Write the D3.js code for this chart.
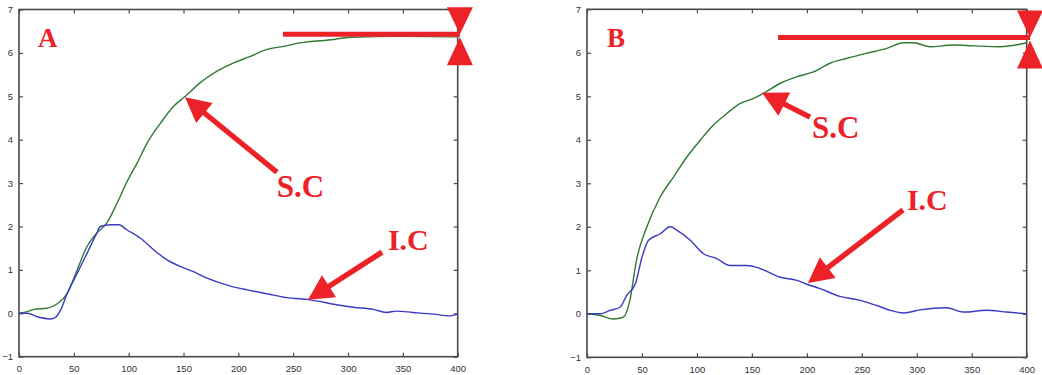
<!DOCTYPE html>
<html><head><meta charset="utf-8">
<script src="https://cdn.jsdelivr.net/npm/d3@7"></script>
<style>body{margin:0;background:#fff}svg{display:block}</style>
</head><body><svg id="c" width="1042" height="375"></svg>
<script>
// ---- data ----
const xTicks = [0,50,100,150,200,250,300,350,400];
const yTicks = [-1,0,1,2,3,4,5,6,7];
const panelNames = ["A","B"];

const scA_x = [0,7.6,13.7,25.8,35,44,53,62,71,80,89.5,98.6,107.7,116.8,129,141,151.7,165,180.6,195.8,211,226,241,256,287,302,347,400];
const scA_y = [0,0.04,0.09,0.12,0.22,0.46,1.0,1.54,1.85,2.08,2.54,3.04,3.46,3.92,4.38,4.77,5.0,5.31,5.58,5.77,5.92,6.08,6.15,6.23,6.31,6.36,6.38,6.37];
const icA_x = [0,7.6,16.7,28.8,33,38,44,53,62,71,74,83.5,91,98.6,110.8,123,135,147,159,171.5,189.7,208,226,244,265.6,287,305,323,335,344,359,378,393,400];
const icA_y = [0,0,-0.08,-0.13,-0.1,0.08,0.46,0.92,1.38,1.85,2.0,2.04,2.04,1.92,1.73,1.46,1.23,1.08,0.96,0.81,0.65,0.54,0.45,0.36,0.31,0.21,0.14,0.09,0.02,0.05,0.02,-0.02,-0.06,-0.02];

const scB_x = [0,12,24,33,39,45,54.5,66.7,78.8,91,103,115,127,139,151.5,160.6,175.8,191,206,221,236,254.5,272.7,288,297,312,333,351.5,375.8,400];
const scB_y = [0,-0.04,-0.12,-0.08,0.31,1.23,2.0,2.69,3.15,3.61,3.99,4.34,4.6,4.83,4.95,5.07,5.3,5.45,5.56,5.76,5.87,5.99,6.1,6.23,6.23,6.14,6.18,6.16,6.14,6.23];
const icB_x = [0,12,21,30,36,44,50,56,66.7,75.8,82,94,106,118,130,145.5,157.6,175.8,191,200,212,230,248.5,263.6,275.8,288,303,327,342.4,363.6,381.8,400];
const icB_y = [0,0,0.08,0.15,0.42,0.69,1.3,1.69,1.84,2.0,1.92,1.69,1.38,1.27,1.11,1.11,1.04,0.84,0.77,0.68,0.58,0.4,0.31,0.19,0.08,0.02,0.09,0.14,0.04,0.08,0.04,0];

// annotation anchors (data units)
const labelText = ["S.C","I.C"];
const annA = {panel:[17.3,6.14], sc:[235,2.68], ic:[336.4,1.46],
  scArrow:[[235.2,3.25],[151.4,4.98]], icArrow:[[331,1.41],[263.5,0.31]],
  level:[240.7,402,6.43]};
const annB = {panel:[18.2,6.13], sc:[204.7,4.04], ic:[291,2.39],
  scArrow:[[202.9,4.52],[159.2,5.08]], icArrow:[[287.5,2.39],[201,0.71]],
  level:[173.8,403,6.35]};

// ---- drawing ----
const svg = d3.select("#c");
const RED = "#ec2228", GREEN = "#2f7a34", BLUE = "#3a3ac4", AX = "#4a4a4a";

function panel(xr, yr, sc, ic, ann, name){
  const x = d3.scaleLinear().domain([0,400]).range(xr);
  const y = d3.scaleLinear().domain([-1,7]).range(yr);
  const g = svg.append("g");
  g.append("rect").attr("x",xr[0]).attr("y",yr[1]).attr("width",xr[1]-xr[0]).attr("height",yr[0]-yr[1])
    .attr("fill","none").attr("stroke",AX).attr("stroke-width",1.6);
  const fmt = d3.format("d");
  const axB = g.append("g").attr("transform",`translate(0,${yr[0]})`).call(d3.axisBottom(x).tickValues(xTicks).tickSize(-4).tickPadding(9).tickFormat(fmt));
  const axT = g.append("g").attr("transform",`translate(0,${yr[1]})`).call(d3.axisTop(x).tickValues(xTicks).tickSize(-4).tickFormat(""));
  const axL = g.append("g").attr("transform",`translate(${xr[0]},0)`).call(d3.axisLeft(y).tickValues(yTicks).tickSize(-4).tickPadding(6).tickFormat(fmt));
  const axR = g.append("g").attr("transform",`translate(${xr[1]},0)`).call(d3.axisRight(y).tickValues(yTicks).tickSize(-4).tickFormat(""));
  [axB,axT,axL,axR].forEach(a=>{
    a.select(".domain").remove();
    a.selectAll(".tick line").attr("stroke",AX).attr("stroke-width",1.2);
    a.selectAll("text").attr("fill","#333").style("font-family","Liberation Sans, Arial, sans-serif").style("font-size","9.5px");
  });
  const line = d3.line().curve(d3.curveMonotoneX).x(d=>x(d[0])).y(d=>y(d[1]));
  g.append("path").datum(d3.zip(sc[0],sc[1])).attr("d",line).attr("fill","none").attr("stroke",GREEN).attr("stroke-width",1.4);
  g.append("path").datum(d3.zip(ic[0],ic[1])).attr("d",line).attr("fill","none").attr("stroke",BLUE).attr("stroke-width",1.4);

  const tf = "Liberation Serif, Times New Roman, serif";
  g.append("text").attr("x",x(ann.panel[0])).attr("y",y(ann.panel[1])).text(name)
    .attr("fill",RED).attr("font-family",tf).attr("font-weight","bold").attr("font-size",27);
  g.append("text").attr("x",x(ann.sc[0])).attr("y",y(ann.sc[1])).text(labelText[0])
    .attr("fill",RED).attr("font-family",tf).attr("font-weight","bold").attr("font-size",31);
  g.append("text").attr("x",x(ann.ic[0])).attr("y",y(ann.ic[1])).text(labelText[1])
    .attr("fill",RED).attr("font-family",tf).attr("font-weight","bold").attr("font-size",30);

  function arrow(a){
    const x0=x(a[0][0]), y0=y(a[0][1]), x1=x(a[1][0]), y1=y(a[1][1]);
    const dx=x1-x0, dy=y1-y0, L=Math.hypot(dx,dy), ux=dx/L, uy=dy/L, nx=-uy, ny=ux;
    const hl=25, hw=13, sw=2.7;
    const bx=x1-ux*hl, by=y1-uy*hl;
    const pts=[[x0+nx*sw,y0+ny*sw],[bx+nx*sw,by+ny*sw],[bx+nx*hw,by+ny*hw],[x1,y1],
      [bx-nx*hw,by-ny*hw],[bx-nx*sw,by-ny*sw],[x0-nx*sw,y0-ny*sw]];
    g.append("polygon").attr("points",pts.map(p=>p.join(",")).join(" ")).attr("fill",RED);
  }
  arrow(ann.scArrow); arrow(ann.icArrow);

  const lv = ann.level;
  g.append("line").attr("x1",x(lv[0])).attr("x2",x(lv[1])).attr("y1",y(lv[2])).attr("y2",y(lv[2]))
    .attr("stroke",RED).attr("stroke-width",5);
  const cx = x(lv[1]), cy = y(lv[2]);
  g.append("polygon").attr("points",[[cx-13,cy-27],[cx+13,cy-27],[cx,cy]].map(p=>p.join(",")).join(" ")).attr("fill",RED);
  g.append("polygon").attr("points",[[cx-13,cy+31],[cx+13,cy+31],[cx,cy+3]].map(p=>p.join(",")).join(" ")).attr("fill",RED);
}

panel([19,457.7],[356.7,9.5],[scA_x,scA_y],[icA_x,icA_y],annA,panelNames[0]);
panel([587,1026.7],[357.3,9.3],[scB_x,scB_y],[icB_x,icB_y],annB,panelNames[1]);
</script></body></html>
